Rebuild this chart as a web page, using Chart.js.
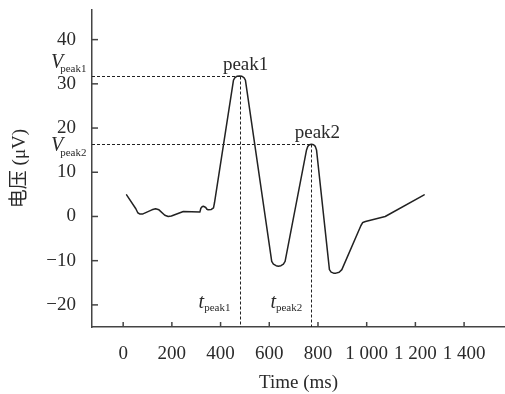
<!DOCTYPE html>
<html><head><meta charset="utf-8">
<script src="https://cdn.jsdelivr.net/npm/chart.js@4/dist/chart.umd.min.js"></script>
<style>html,body{margin:0;padding:0;background:#fff}#wrap{width:505px;height:394px;position:relative}</style>
</head><body><div id="wrap"><canvas id="c"></canvas></div>
<script>
// ---- data ----
const timeMs  = [14, 52, 60, 69, 79, 118, 133, 147, 171, 185, 198, 247, 315, 319, 325, 331, 339, 344, 349, 362, 371, 375,
                 453, 459, 467, 478, 488, 496, 502,
                 610, 617, 628, 637, 648, 658, 665,
                 753, 758, 765, 773, 782, 789, 794,
                 847, 854, 864, 874, 887, 898,
                 976, 984, 995, 1076, 1236];
const voltage = [4.90, 1.74, 0.84, 0.54, 0.54, 1.50, 1.74, 1.50, 0.27, 0.00, 0.09, 1.13, 0.99, 1.85, 2.26, 2.30, 2.03, 1.63, 1.51, 1.60, 1.96, 3.10,
                 30.86, 31.42, 31.69, 31.76, 31.69, 31.42, 30.86,
                 -10.16, -10.79, -11.13, -11.24, -11.13, -10.79, -10.16,
                 15.05, 15.85, 16.23, 16.34, 16.23, 15.85, 15.05,
                 -12.03, -12.60, -12.82, -12.82, -12.60, -12.03,
                 -2.10, -1.35, -1.15, 0.00, 4.90];
const xTicks = [0, 200, 400, 600, 800, 1000, 1200, 1400];
const yTicks = [-20, -10, 0, 10, 20, 30, 40];
const xRange = [-128, 1568];
const yRange = [-25, 46.7];
const peakNames = ['peak1', 'peak2'];
const peakTimes = [478, 773];
const peakVoltages = [31.76, 16.34];
const xTitle = 'Time (ms)';
const yTitle = '电压 (μV)';

const SERIF = "'Liberation Serif', 'Noto Sans CJK SC', serif";
const TXT = '#2a2a2a';

function fmtX(v) {
  if (v >= 1000) return Math.floor(v / 1000) + ' ' + String(v % 1000).padStart(3, '0');
  return String(v);
}
function fmtY(v) { return v < 0 ? '\u2212' + Math.abs(v) : String(v); }

function drawSub(ctx, main, sub, x, base, subDy, size, subSize, overhang) {
  ctx.textAlign = 'left';
  ctx.textBaseline = 'alphabetic';
  ctx.font = 'italic ' + size + 'px ' + SERIF;
  ctx.fillText(main, x, base);
  const w = ctx.measureText(main).width;
  ctx.font = subSize + 'px ' + SERIF;
  ctx.fillText(sub, x + w - overhang, base + subDy);
}

const deco = {
  id: 'deco',
  beforeDatasetsDraw(chart) {
    const { ctx, chartArea: a, scales: { x, y } } = chart;
    ctx.save();
    ctx.strokeStyle = '#222';
    ctx.lineWidth = 1;
    ctx.setLineDash([3, 2]);
    peakTimes.forEach((t, i) => {
      const px = Math.round(x.getPixelForValue(t)) + 0.5;
      const py = Math.round(y.getPixelForValue(peakVoltages[i])) + 0.5;
      ctx.beginPath(); ctx.moveTo(a.left, py); ctx.lineTo(px, py); ctx.stroke();
      ctx.beginPath(); ctx.moveTo(px, py); ctx.lineTo(px, a.bottom); ctx.stroke();
    });
    ctx.restore();
  },
  afterDraw(chart) {
    const { ctx, chartArea: a, scales: { x, y } } = chart;
    ctx.save();
    // inward tick marks
    ctx.strokeStyle = '#444';
    ctx.lineWidth = 1.5;
    xTicks.forEach(v => {
      const px = x.getPixelForValue(v);
      ctx.beginPath(); ctx.moveTo(px, a.bottom); ctx.lineTo(px, a.bottom - 5); ctx.stroke();
    });
    yTicks.forEach(v => {
      const py = y.getPixelForValue(v);
      ctx.beginPath(); ctx.moveTo(a.left, py); ctx.lineTo(a.left + 6, py); ctx.stroke();
    });
    ctx.fillStyle = TXT;
    // peak names
    ctx.font = '19px ' + SERIF;
    ctx.textAlign = 'center';
    ctx.textBaseline = 'alphabetic';
    peakTimes.forEach((t, i) => {
      const px = x.getPixelForValue(t);
      const py = y.getPixelForValue(peakVoltages[i]);
      ctx.fillText(peakNames[i], px + 6, py - 6);
    });
    // V labels
    const v1 = y.getPixelForValue(peakVoltages[0]);
    const v2 = y.getPixelForValue(peakVoltages[1]);
    drawSub(ctx, 'V', peakNames[0], a.left - 41, v1 - 8, 4, 20, 11, 3);
    drawSub(ctx, 'V', peakNames[1], a.left - 41, v2 + 7, 4.5, 20, 11, 3);
    // t labels
    peakTimes.forEach((t, i) => {
      const px = x.getPixelForValue(t);
      drawSub(ctx, 't', peakNames[i], px - 41, a.bottom - 19, 3, 20, 11, 0);
    });
    ctx.restore();
  }
};

new Chart(document.getElementById('c'), {
  type: 'line',
  data: {
    datasets: [{
      data: timeMs.map((t, i) => ({ x: t, y: voltage[i] })),
      borderColor: '#222',
      borderWidth: 1.5,
      borderJoinStyle: 'round',
      borderCapStyle: 'round',
      pointRadius: 0,
      fill: false,
      tension: 0
    }]
  },
  options: {
    responsive: true,
    maintainAspectRatio: false,
    animation: false,
    devicePixelRatio: 1,
    layout: { padding: { top: 10, right: 0, left: 0, bottom: 0 } },
    plugins: { legend: { display: false }, tooltip: { enabled: false } },
    scales: {
      x: {
        type: 'linear',
        min: xRange[0], max: xRange[1],
        afterBuildTicks: s => { s.ticks = xTicks.map(v => ({ value: v })); },
        afterFit: s => { s.height = 67; s.paddingLeft = 0; s.paddingRight = 0; },
        grid: { display: false, drawTicks: false },
        border: { display: true, color: '#444', width: 1.5 },
        ticks: { color: TXT, font: { family: SERIF, size: 19 }, padding: 16, maxRotation: 0, autoSkip: false, callback: v => fmtX(v) },
        title: { display: true, text: xTitle, color: TXT, font: { family: SERIF, size: 19 }, padding: 0 }
      },
      y: {
        type: 'linear',
        min: yRange[0], max: yRange[1],
        afterBuildTicks: s => { s.ticks = yTicks.map(v => ({ value: v })); },
        afterFit: s => { s.width = 92; s.paddingTop = 0; s.paddingBottom = 0; },
        grid: { display: false, drawTicks: false },
        border: { display: true, color: '#444', width: 1.5 },
        ticks: { color: TXT, font: { family: SERIF, size: 19 }, padding: 16, autoSkip: false, callback: v => fmtY(v) },
        title: { display: true, text: yTitle, color: TXT, font: { family: SERIF, size: 19 }, padding: { top: 9, bottom: 0 } }
      }
    }
  },
  plugins: [deco]
});
</script>
</body></html>
